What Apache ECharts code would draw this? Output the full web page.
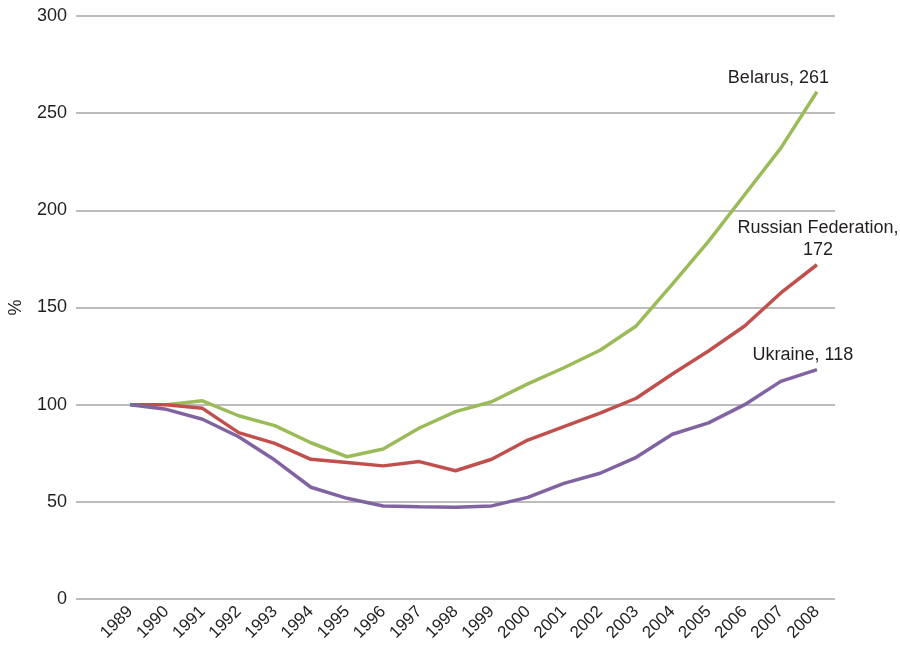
<!DOCTYPE html>
<html>
<head>
<meta charset="utf-8">
<script src="https://cdn.jsdelivr.net/npm/echarts@6/dist/echarts.min.js"></script>
<style>
html,body{margin:0;padding:0;background:#fff;}
#chart{width:900px;height:654px;}
</style>
</head>
<body>
<div id="chart"></div>
<script>
var years = ['1989','1990','1991','1992','1993','1994','1995','1996','1997','1998','1999','2000','2001','2002','2003','2004','2005','2006','2007','2008'];
var belarusYears = years.slice(1);
var belarus = [100, 102, 94.3, 89.2, 80.4, 73.2, 77.2, 88, 96.4, 101.5, 110.7, 119, 128, 140.5, 162, 184, 208, 232, 261];
var russia = [100, 100, 98.1, 85.6, 80.1, 71.9, 70.2, 68.5, 70.7, 66, 71.9, 81.8, 88.7, 95.6, 103.3, 115.8, 127.6, 140.5, 157.5, 172];
var ukraine = [100, 97.6, 92.5, 83.5, 71.5, 57.5, 51.8, 47.9, 47.5, 47.2, 47.9, 52.3, 59.5, 64.7, 72.9, 84.8, 90.6, 100, 112, 118];
var yTicks = [0, 50, 100, 150, 200, 250, 300];

function pairs(xs, vs){ return xs.map(function(x,i){ return [x, vs[i]]; }); }

var textColor = '#231f20';
var fontFamily = 'Liberation Sans, Arial, Helvetica, sans-serif';
var chart = echarts.init(document.getElementById('chart'));
chart.setOption({
  animation: false,
  backgroundColor: '#fff',
  grid: {left: 76, right: 65, top: 16, bottom: 55, containLabel: false, outerBoundsMode: 'none'},
  xAxis: {
    type: 'category',
    data: [''].concat(years),
    boundaryGap: true,
    axisLine: {show: false},
    axisTick: {show: false},
    splitLine: {show: false},
    axisLabel: {rotate: 45, interval: 0, margin: 10, fontSize: 17, color: textColor, fontFamily: fontFamily}
  },
  yAxis: {
    type: 'value',
    min: yTicks[0],
    max: yTicks[yTicks.length-1],
    interval: 50,
    name: '%',
    nameLocation: 'middle',
    nameGap: 51,
    nameTextStyle: {fontSize: 18, color: textColor, fontFamily: fontFamily},
    axisLine: {show: false},
    axisTick: {show: false},
    axisLabel: {margin: 9, fontSize: 18, color: textColor, fontFamily: fontFamily},
    splitLine: {lineStyle: {color: '#a6a6a6', width: 1.5}}
  },
  series: [
    {
      name: 'Belarus', type: 'line', data: pairs(belarusYears, belarus),
      showSymbol: false, symbol: 'none',
      lineStyle: {color: '#9bbb59', width: 3.5}, itemStyle: {color: '#9bbb59'},
      endLabel: {show: true, formatter: 'Belarus, 261', align: 'right', offset: [4, -14], fontSize: 18, color: textColor, fontFamily: fontFamily}
    },
    {
      name: 'Russian Federation', type: 'line', data: pairs(years, russia),
      showSymbol: false, symbol: 'none',
      lineStyle: {color: '#c0504d', width: 3.5}, itemStyle: {color: '#c0504d'},
      endLabel: {show: true, formatter: 'Russian Federation,\n172', align: 'center', offset: [-7, -26], lineHeight: 22, fontSize: 18, color: textColor, fontFamily: fontFamily}
    },
    {
      name: 'Ukraine', type: 'line', data: pairs(years, ukraine),
      showSymbol: false, symbol: 'none',
      lineStyle: {color: '#8064a2', width: 3.5}, itemStyle: {color: '#8064a2'},
      endLabel: {show: true, formatter: 'Ukraine, 118', align: 'center', offset: [-22, -15], fontSize: 18, color: textColor, fontFamily: fontFamily}
    }
  ]
});
</script>
</body>
</html>
